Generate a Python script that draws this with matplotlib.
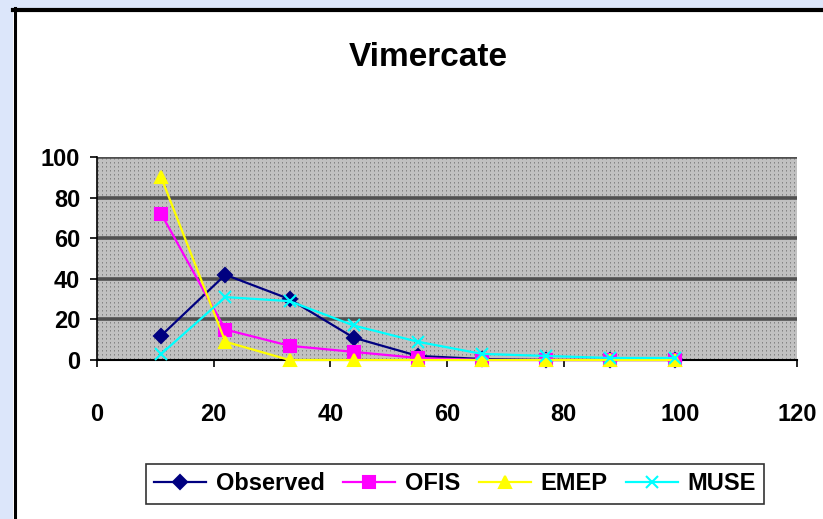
import numpy as np
import matplotlib
matplotlib.use("Agg")
import matplotlib.pyplot as plt
from matplotlib.patches import Rectangle
from matplotlib.lines import Line2D

# Size classes and share (%) per source
x_vals = [11, 22, 33, 44, 55, 66, 77, 88, 99]
observed = [12, 42, 30, 11, 2, 0.5, 0, 0, 0]
ofis = [72, 15, 7, 4, 1, 0, 0, 0, 0]
emep = [90, 9, 0, 0, 0, 0, 0, 0, 0]
muse = [3, 31, 29, 17, 9, 3, 2, 1, 1]

series_names = ["Observed", "OFIS", "EMEP", "MUSE"]
x_ticks = [0, 20, 40, 60, 80, 100, 120]
y_ticks = [0, 20, 40, 60, 80, 100]
title = "Vimercate"

W, H = 823, 519
fig = plt.figure(figsize=(W / 100, H / 100), dpi=100)
fig.patch.set_facecolor("#dce6fa")

plt.rcParams["font.family"] = ["Liberation Sans", "DejaVu Sans"]

# White chart sheet with dark top and left edges
sheet = Rectangle((13 / W, 0), 1 - 13 / W, 1 - 8 / H,
                  transform=fig.transFigure, facecolor="white",
                  edgecolor="none", zorder=-5)
fig.add_artist(sheet)
fig.add_artist(Line2D([13 / W, 1], [1 - 9.5 / H, 1 - 9.5 / H],
                      transform=fig.transFigure, color="black", lw=3.0,
                      zorder=-4))
fig.add_artist(Line2D([14.5 / W, 14.5 / W], [0, 1 - 8 / H],
                      transform=fig.transFigure, color="black", lw=2.2,
                      zorder=-4))

ax = fig.add_axes([97 / W, 1 - 360 / H, 700 / W, 203 / H])
ax.set_facecolor("#c0c0c0")

# Dotted fill of the plotting area
pw, ph = 700, 203
pat = np.full((ph, pw, 3), 0.76)
pat[1::4, 1::4] = 0.52
pat[2::4, 1::4] = 0.62
ax.imshow(pat, extent=[0, 120, 0, 100], aspect="auto",
          interpolation="nearest", zorder=0)

for yv in y_ticks[1:]:
    ax.axhline(yv, color="#505050", lw=2.6, zorder=1)

ax.set_xlim(0, 120)
ax.set_ylim(0, 100)

styles = [
    (observed, "#000080", "D", 7, 1.6),
    (ofis, "#ff00ff", "s", 8, 1.6),
    (emep, "#ffff00", "^", 8, 1.6),
    (muse, "#00ffff", "x", 8, 1.6),
]
handles = []
for (vals, col, mk, ms, lw), name in zip(styles, series_names):
    ln, = ax.plot(x_vals, vals, color=col, marker=mk, markersize=ms,
                  lw=lw, mew=1.5, label=name, clip_on=False, zorder=3)
    handles.append(ln)

for side in ["top", "right"]:
    ax.spines[side].set_visible(False)
ax.spines["left"].set_color("black")
ax.spines["bottom"].set_color("black")
ax.spines["left"].set_linewidth(1.2)
ax.spines["bottom"].set_linewidth(1.5)

ax.set_xticks(x_ticks)
ax.set_yticks(y_ticks)
ax.tick_params(axis="x", length=5, width=1.2, pad=26, labelsize=17)
ax.tick_params(axis="y", length=5, width=1.2, pad=7, labelsize=17)
for lab in ax.get_xticklabels() + ax.get_yticklabels():
    lab.set_fontweight("bold")

fig.text(428 / W, 1 - 58 / H, title, ha="center", va="center",
         fontsize=24, fontweight="bold")

leg = fig.legend(handles=handles, loc="center",
                 bbox_to_anchor=(455 / W, 1 - 484 / H), ncol=4,
                 frameon=True, fancybox=False, edgecolor="black",
                 prop={"size": 17, "weight": "bold"},
                 handlelength=2.2, handletextpad=0.4, columnspacing=0.8,
                 borderpad=0.35)
leg.get_frame().set_linewidth(1.2)

fig.savefig("out.png", dpi=100, facecolor=fig.get_facecolor())
